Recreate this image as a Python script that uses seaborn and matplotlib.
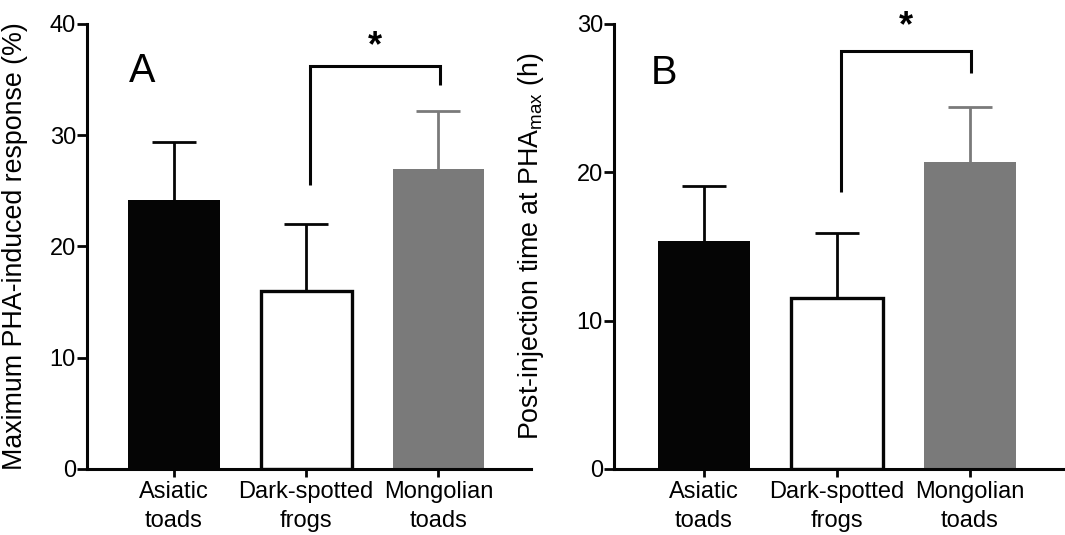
import pandas as pd
import numpy as np
import matplotlib
matplotlib.use('Agg')
import matplotlib.pyplot as plt
import seaborn as sns

# --- data ---
groups = ['Asiatic\ntoads', 'Dark-spotted\nfrogs', 'Mongolian\ntoads']
bar_colors = ['#050505', '#ffffff', '#7a7a7a']
err_colors = ['#050505', '#050505', '#7a7a7a']

resp_mean = [24.2, 16.0, 27.0]
resp_sem = [5.2, 6.05, 5.15]

time_mean = [15.4, 11.55, 20.7]
time_sem = [3.65, 4.35, 3.7]

# significance brackets: (left leg bottom, top, right leg bottom, star y)
bracket_a = [25.5, 36.2, 34.5, 38.0]
bracket_b = [18.7, 28.2, 26.7, 29.8]

sns.set_theme(style='ticks')
plt.rcParams['font.family'] = ['Liberation Sans', 'DejaVu Sans']
plt.rcParams['text.color'] = 'black'
plt.rcParams['axes.labelcolor'] = 'black'
plt.rcParams['xtick.color'] = 'black'
plt.rcParams['ytick.color'] = 'black'

fig = plt.figure(figsize=(10.65, 5.35), dpi=100)
ax_a = fig.add_axes([0.0817, 0.1234, 0.4169, 0.8318])
ax_b = fig.add_axes([0.5765, 0.1234, 0.4235, 0.8318])


def draw_panel(ax, means, sems, ylim, yticks, ylabel, letter, letter_x, letter_y, bracket, xlim):
    df = pd.DataFrame({'group': groups, 'value': means})
    sns.barplot(data=df, x='group', y='value', hue='group', palette=bar_colors,
                errorbar=None, width=0.69, legend=False, ax=ax)
    for i, p in enumerate(ax.patches):
        if i == 1:
            # white bar gets a black outline
            p.set_edgecolor('#050505')
            p.set_linewidth(2.4)
        else:
            p.set_edgecolor(bar_colors[i])
            p.set_linewidth(0)
    # upper-only error bars, no cap at the bar top
    for i in range(3):
        eb = ax.errorbar(i, means[i], yerr=[[0], [sems[i]]], fmt='none',
                         ecolor=err_colors[i], elinewidth=2.0, capsize=16, capthick=2.0,
                         zorder=1)
        eb[1][0].set_visible(False)
    # bracket
    lb, top, rb, sy = bracket
    ax.plot([1.03, 1.03, 2.01, 2.01], [lb, top, top, rb], color='#050505',
            lw=2.2, solid_capstyle='butt', solid_joinstyle='miter', clip_on=False)
    ax.text(1.52, sy, '*', ha='center', va='center', fontsize=26, fontweight='bold')
    ax.text(letter_x, letter_y, letter, ha='left', va='center', fontsize=28.5)

    ax.set_ylim(*ylim)
    ax.set_xlim(*xlim)
    ax.set_yticks(yticks)
    ax.set_xlabel('')
    ax.set_ylabel(ylabel, fontsize=19.3)
    ax.tick_params(axis='both', labelsize=17, width=2.0, color='#050505')
    ax.tick_params(axis='y', pad=1, length=7)
    ax.tick_params(axis='x', pad=3, length=6)
    for lab in ax.get_xticklabels():
        lab.set_linespacing(1.4)
    for s in ['left', 'bottom']:
        ax.spines[s].set_linewidth(2.2)
        ax.spines[s].set_color('#050505')
    sns.despine(ax=ax)
    ax.set_facecolor('white')


draw_panel(ax_a, resp_mean, resp_sem, (0, 40), [0, 10, 20, 30, 40],
           'Maximum PHA-induced response (%)', 'A', -0.34, 35.8, bracket_a, (-0.658, 2.70))
draw_panel(ax_b, time_mean, time_sem, (0, 30), [0, 10, 20, 30],
           'Post-injection time at PHA$_\\mathregular{max}$ (h)', 'B', -0.40, 26.7, bracket_b,
           (-0.677, 2.714))

ax_a.yaxis.set_label_coords(-0.133, 0.5)
ax_b.yaxis.set_label_coords(-0.151, 0.5)

fig.savefig('out.png', dpi=100, facecolor='white')
